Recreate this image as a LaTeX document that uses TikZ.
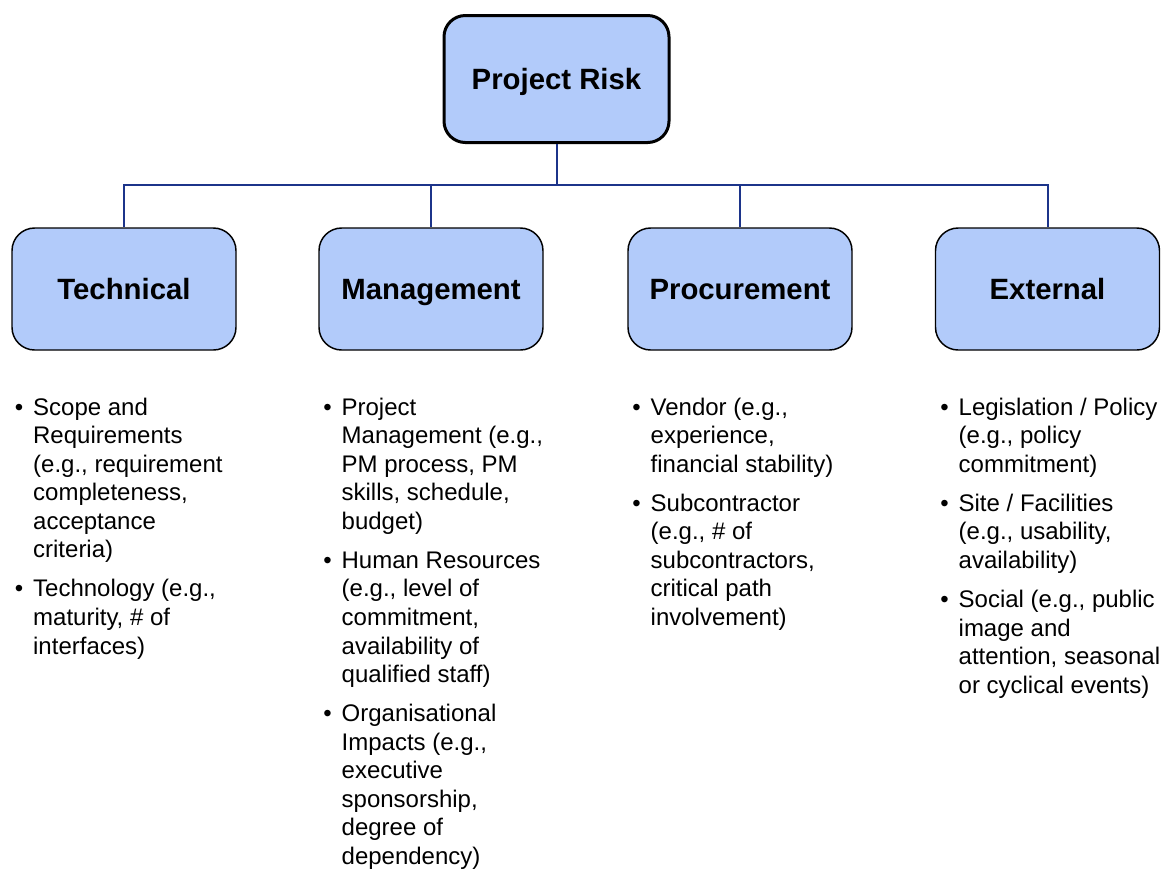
\documentclass[tikz,border=0pt]{standalone}
\usepackage{fontspec}
\setmainfont{Liberation Sans}
\usepackage{xcolor}
\usepackage{tikz}
\usetikzlibrary{positioning,calc}

\definecolor{boxfill}{RGB}{178,203,250}
\definecolor{linknavy}{RGB}{28,52,138}
\newcommand{\itemfont}{\fontsize{18}{21.4}\selectfont}
\newcommand{\riskitem}[1]{\textbullet\hspace{7.5pt}\begin{tabular}[t]{@{}l@{}}#1\end{tabular}}

\begin{document}
\begin{tikzpicture}[
    x=0.75pt, y=0.75pt,
    rootbox/.style={draw=black, line width=2.25pt, fill=boxfill, rounded corners=16pt,
        minimum width=168.75pt, minimum height=95.25pt, text height=15.8pt, text depth=0pt,
        font=\fontsize{22}{26}\selectfont\bfseries},
    riskbox/.style={draw=black, line width=1.1pt, fill=boxfill, rounded corners=17pt,
        minimum width=168pt, minimum height=91.5pt, text height=15.8pt, text depth=0pt,
        font=\fontsize{22}{26}\selectfont\bfseries},
    link/.style={draw=linknavy, line width=1.5pt},
    entry/.style={inner sep=0pt, font=\itemfont}
]
    \useasboundingbox (0,0) rectangle (1165,-894);

    \node[rootbox] (root) at (556.5,-79) {Project Risk};

    \node[riskbox] (tec) at (124,-289) {Technical};
    \node[riskbox] (mgt) at (431,-289) {Management};
    \node[riskbox] (pro) at (740,-289) {Procurement};
    \node[riskbox] (ext) at (1047.5,-289) {External};

    % connectors
    \coordinate (bus) at (556.5,-185);
    \draw[link] (root.south) -- (bus);
    \foreach \n in {tec,mgt,pro,ext}
        \draw[link] (bus) -| (\n.north);

    % Technical
    \node[entry, anchor=north west] (tec-a) at (14.5,-395)
        {\riskitem{Scope and\\Requirements\\(e.g., requirement\\completeness,\\acceptance\\criteria)}};
    \node[entry, below=7.5pt of tec-a.south west, anchor=north west] (tec-b)
        {\riskitem{Technology (e.g.,\\maturity, \# of\\interfaces)}};

    % Management
    \node[entry, anchor=north west] (mgt-a) at (323,-395)
        {\riskitem{Project\\Management (e.g.,\\PM process, PM\\skills, schedule,\\budget)}};
    \node[entry, below=7.5pt of mgt-a.south west, anchor=north west] (mgt-b)
        {\riskitem{Human Resources\\(e.g., level of\\commitment,\\availability of\\qualified staff)}};
    \node[entry, below=7.5pt of mgt-b.south west, anchor=north west] (mgt-c)
        {\riskitem{Organisational\\Impacts (e.g.,\\executive\\sponsorship,\\degree of\\dependency)}};

    % Procurement
    \node[entry, anchor=north west] (pro-a) at (632,-395)
        {\riskitem{Vendor (e.g.,\\experience,\\financial stability)}};
    \node[entry, below=7.5pt of pro-a.south west, anchor=north west] (pro-b)
        {\riskitem{Subcontractor\\(e.g., \# of\\subcontractors,\\critical path\\involvement)}};

    % External
    \node[entry, anchor=north west] (ext-a) at (940,-395)
        {\riskitem{Legislation / Policy\\(e.g., policy\\commitment)}};
    \node[entry, below=7.5pt of ext-a.south west, anchor=north west] (ext-b)
        {\riskitem{Site / Facilities\\(e.g., usability,\\availability)}};
    \node[entry, below=7.5pt of ext-b.south west, anchor=north west] (ext-c)
        {\riskitem{Social (e.g., public\\image and\\attention, seasonal\\or cyclical events)}};
\end{tikzpicture}
\end{document}
